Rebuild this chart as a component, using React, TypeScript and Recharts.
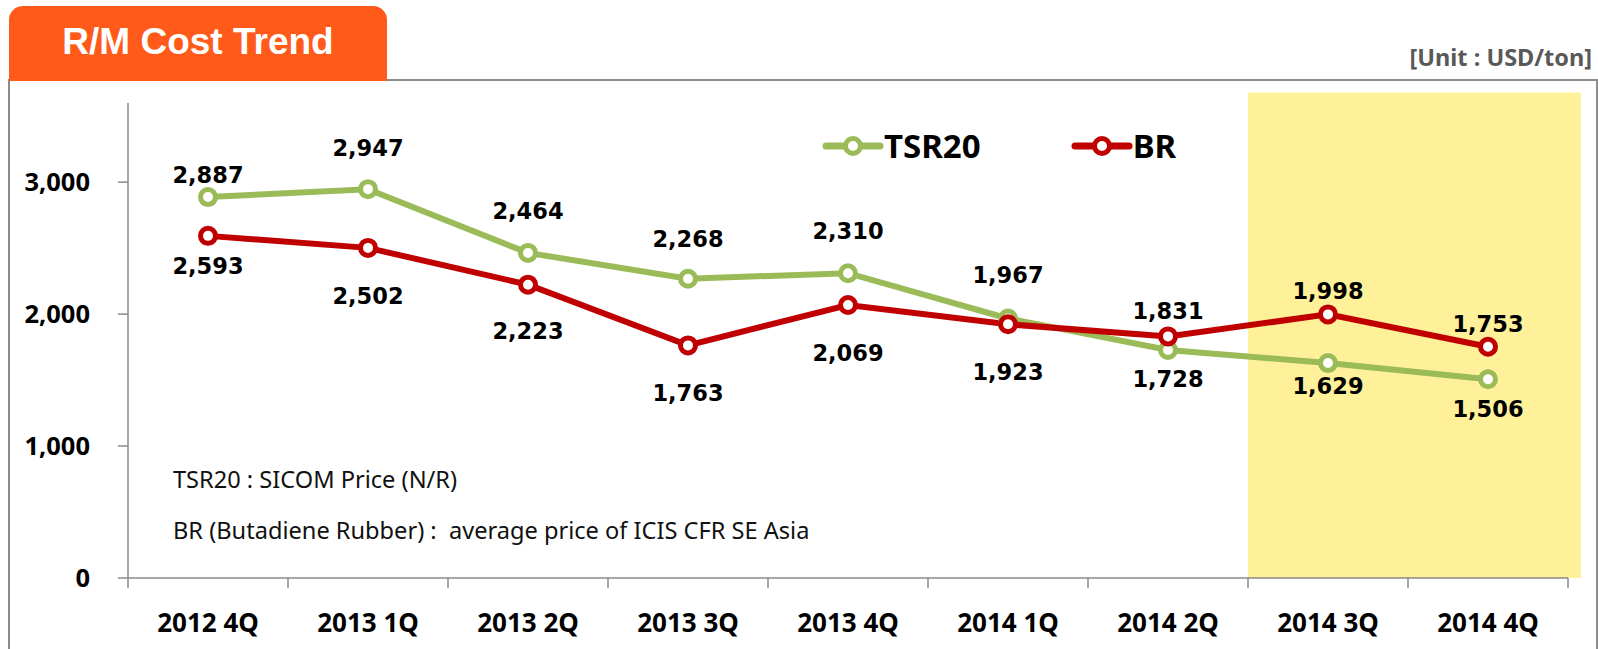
import React from 'react';
import { LineChart, Line, XAxis, YAxis, ReferenceArea, LabelList, Legend } from 'recharts';

const categories = ['2012 4Q', '2013 1Q', '2013 2Q', '2013 3Q', '2013 4Q', '2014 1Q', '2014 2Q', '2014 3Q', '2014 4Q'];
const tsr20Values = [2887, 2947, 2464, 2268, 2310, 1967, 1728, 1629, 1506];
const brValues = [2593, 2502, 2223, 1763, 2069, 1923, 1831, 1998, 1753];
const seriesNames = ['TSR20', 'BR'];
const yTicks = [0, 1000, 2000, 3000];
const highlightFrom = '2014 3Q';
const highlightTo = '2014 4Q';

// label offsets (px, relative to the point) — styling only
const tsrLabelDy = [-22, -41, -42, -40, -42, -43, 29, 23, 30];
const brLabelDy = [30, 48, 46, 48, 48, 48, -25, -23, -23];

const TSR_COLOR = '#9BBB59';
const BR_COLOR = '#C00000';
const FONT = '"Noto Sans", "DejaVu Sans", sans-serif';
const LABEL_FONT = '"DejaVu Sans", "Noto Sans", sans-serif';

const data = categories.map((c, i) => ({ cat: c, tsr20: tsr20Values[i], br: brValues[i] }));

const fmt = (v: any) => Number(v).toLocaleString('en-US');

const makeLabel = (dys: number[]) => (props: any) => {
  const { index, value } = props;
  const x = props.x ?? props.viewBox?.x;
  const y = props.y ?? props.viewBox?.y;
  if (x == null || y == null) return null;
  return (
    <text x={x} y={y + dys[index]} textAnchor="middle" dominantBaseline="central"
      fontFamily={LABEL_FONT} fontWeight={700} fontSize={22.5} fill="#000">
      {fmt(value)}
    </text>
  );
};

const XTick = (props: any) => {
  const { x, y, payload, index, visibleTicksCount } = props;
  const n = visibleTicksCount || categories.length;
  const half = (props.width || 1440) / n / 2;
  return (
    <g>
      <line x1={x - half} x2={x - half} y1={y} y2={y + 10} stroke="#8a8a8a" strokeWidth={1.5} />
      {index === n - 1 && (
        <line x1={x + half} x2={x + half} y1={y} y2={y + 10} stroke="#8a8a8a" strokeWidth={1.5} />
      )}
      <text x={x} y={y + 54} textAnchor="middle" fontFamily={FONT} fontWeight={700} fontSize={26} fill="#000">
        {payload.value}
      </text>
    </g>
  );
};

const LegendContent = (props: any) => {
  const items = [...(props.payload || [])].sort(
    (a: any, b: any) => seriesNames.indexOf(a.value) - seriesNames.indexOf(b.value)
  );
  return (
    <div style={{ display: 'flex', alignItems: 'center' }}>
      {items.map((p: any, i: number) => (
        <div key={i} style={{ display: 'flex', alignItems: 'center', marginRight: i === 0 ? 90 : 0 }}>
          <svg width={62} height={26} style={{ display: 'block' }}>
            <line x1={4} x2={58} y1={13} y2={13} stroke={p.color} strokeWidth={7} strokeLinecap="round" />
            <circle cx={31} cy={13} r={7.5} fill="#fff" stroke={p.color} strokeWidth={5} />
          </svg>
          <span style={{ fontFamily: FONT, fontWeight: 700, fontSize: 33, color: '#000', lineHeight: '38px' }}>
            {p.value}
          </span>
        </div>
      ))}
    </div>
  );
};

export default function App() {
  return (
    <div style={{ position: 'absolute', left: 0, top: 0, width: 1598, height: 649, overflow: 'hidden', background: '#fff' }}>
      <div style={{ position: 'absolute', left: 8, top: 79, width: 1586, height: 600, border: '2px solid #8c8c8c' }} />
      <div style={{
        position: 'absolute', left: 9, top: 6, width: 378, height: 75, background: '#FF5A19',
        borderRadius: '14px 14px 0 0', color: '#fff', fontFamily: '"Liberation Sans", Arial, sans-serif',
        fontWeight: 700, fontSize: 37, textAlign: 'center', lineHeight: '72px'
      }}>R/M Cost Trend</div>
      <div style={{
        position: 'absolute', right: 6, top: 42, fontFamily: FONT, fontWeight: 700, fontSize: 23.5,
        color: '#595959', lineHeight: '30px', whiteSpace: 'pre'
      }}>[Unit : USD/ton]</div>
      <div style={{ position: 'absolute', left: 0, top: 0 }}>
        <LineChart width={1598} height={649} data={data} margin={{ top: 103, right: 30, bottom: 0, left: 28 }}>
          <ReferenceArea x1={highlightFrom} x2={highlightTo} y1={0} y2={3680} ifOverflow="visible"
            fill="#FFF09A" fillOpacity={1} stroke="none"
            shape={(p: any) => <rect x={p.x} y={p.y} width={p.width + 13} height={p.height} fill="#FFF09A" />} />
          <XAxis dataKey="cat" scale="band" height={71} tickLine={false} tickSize={0} tickMargin={0}
            axisLine={{ stroke: '#8a8a8a', strokeWidth: 1.5 }} tick={<XTick />} interval={0} />
          <YAxis width={100} domain={[0, 3600]} ticks={yTicks} interval={0} tickSize={10} tickMargin={28}
            tickFormatter={fmt} axisLine={{ stroke: '#8a8a8a', strokeWidth: 1.5 }}
            tickLine={{ stroke: '#8a8a8a', strokeWidth: 1.5 }}
            tick={{ fontFamily: FONT, fontWeight: 700, fontSize: 25.5, fill: '#000' }} />
          <Legend layout="horizontal" verticalAlign="middle" align="center" content={<LegendContent />}
            wrapperStyle={{ position: 'absolute', left: 822, top: 127, width: 440 }} />
          <Line type="linear" dataKey="tsr20" name="TSR20" stroke={TSR_COLOR} strokeWidth={6}
            dot={{ r: 7.5, fill: '#fff', stroke: TSR_COLOR, strokeWidth: 5 }} activeDot={false}
            isAnimationActive={false}>
            <LabelList dataKey="tsr20" content={makeLabel(tsrLabelDy)} />
          </Line>
          <Line type="linear" dataKey="br" name="BR" stroke={BR_COLOR} strokeWidth={6}
            dot={{ r: 7.5, fill: '#fff', stroke: BR_COLOR, strokeWidth: 5 }} activeDot={false}
            isAnimationActive={false}>
            <LabelList dataKey="br" content={makeLabel(brLabelDy)} />
          </Line>
        </LineChart>
      </div>
      <div style={{ position: 'absolute', left: 173, top: 464, fontFamily: FONT, fontSize: 23.6, color: '#111', lineHeight: '30px', whiteSpace: 'pre' }}>
        TSR20 : SICOM Price (N/R)
      </div>
      <div style={{ position: 'absolute', left: 173, top: 515, fontFamily: FONT, fontSize: 23.6, color: '#111', lineHeight: '30px', whiteSpace: 'pre' }}>
        {'BR (Butadiene Rubber) :  average price of ICIS CFR SE Asia'}
      </div>
    </div>
  );
}
